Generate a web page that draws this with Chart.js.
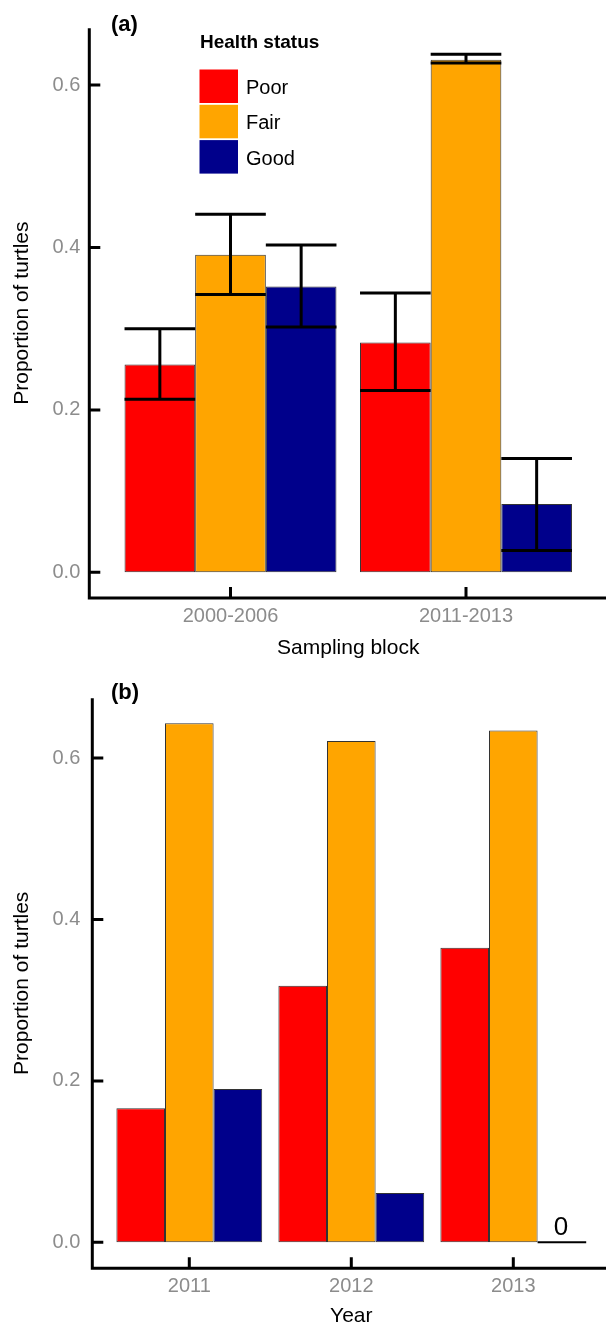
<!DOCTYPE html>
<html>
<head>
<meta charset="utf-8">
<script src="https://cdn.jsdelivr.net/npm/chart.js@4.4.1/dist/chart.umd.min.js"></script>
<style>
  html, body { margin: 0; padding: 0; background: #fff; overflow: hidden; }
  canvas { position: absolute; left: 0; }
  #chartA { top: 0; }
  #chartB { top: 668px; }
</style>
</head>
<body>
<canvas id="chartA" width="606" height="668"></canvas>
<canvas id="chartB" width="606" height="670"></canvas>
<script>
const statusLabels = ['Poor', 'Fair', 'Good'];
const statusColors = ['#ff0000', '#ffa500', '#00008b'];
const yTicks = [0, 0.2, 0.4, 0.6];

// (a) proportions by sampling block, with error limits
const blocks = ['2000-2006', '2011-2013'];
const poorBlock = [0.256, 0.283];
const fairBlock = [0.391, 0.631];
const goodBlock = [0.352, 0.084];
const poorLow = [0.213, 0.224];
const poorHigh = [0.300, 0.344];
const fairLow = [0.342, 0.627];
const fairHigh = [0.441, 0.638];
const goodLow = [0.302, 0.027];
const goodHigh = [0.403, 0.140];

// (b) proportions by year
const years = ['2011', '2012', '2013'];
const poorYear = [0.166, 0.318, 0.365];
const fairYear = [0.643, 0.621, 0.634];
const goodYear = [0.190, 0.061, 0];

const FONT = "'Liberation Sans', Arial, sans-serif";

function makeDatasets(series, lows, highs) {
    return series.map((data, i) => ({
        label: statusLabels[i],
        data: data,
        backgroundColor: statusColors[i],
        borderColor: '#333',
        borderWidth: 1,
        borderSkipped: false,
        errLow: lows ? lows[i] : null,
        errHigh: highs ? highs[i] : null
    }));
}

// axis lines and tick marks sit left of the plot area, like the original figure
function axesPlugin(axisX, tag) {
    return {
        id: 'axes',
        afterDraw(chart) {
            const { ctx, chartArea, scales } = chart;
            ctx.save();
            ctx.strokeStyle = '#000';
            ctx.lineWidth = 3;
            ctx.beginPath();
            ctx.moveTo(axisX, chartArea.top);
            ctx.lineTo(axisX, chartArea.bottom + 1.5);
            ctx.moveTo(axisX - 1.5, chartArea.bottom);
            ctx.lineTo(chart.width, chartArea.bottom);
            scales.y.ticks.forEach(t => {
                const y = scales.y.getPixelForValue(t.value);
                ctx.moveTo(axisX, y);
                ctx.lineTo(axisX + 11, y);
            });
            scales.x.ticks.forEach((t, i) => {
                const x = scales.x.getPixelForTick(i);
                ctx.moveTo(x, chartArea.bottom);
                ctx.lineTo(x, chartArea.bottom - 11);
            });
            ctx.stroke();

            ctx.fillStyle = '#000';
            ctx.font = 'bold 22px ' + FONT;
            ctx.textAlign = 'left';
            ctx.textBaseline = 'middle';
            ctx.fillText(tag, 111, 25);
            ctx.restore();
        }
    };
}

const errorBarsPlugin = {
    id: 'errorBars',
    afterDatasetsDraw(chart) {
        const { ctx, scales } = chart;
        ctx.save();
        ctx.strokeStyle = '#000';
        ctx.lineWidth = 3;
        chart.data.datasets.forEach((ds, di) => {
            if (!ds.errLow) return;
            chart.getDatasetMeta(di).data.forEach((bar, i) => {
                const half = bar.width / 2;
                const yl = scales.y.getPixelForValue(ds.errLow[i]);
                const yh = scales.y.getPixelForValue(ds.errHigh[i]);
                ctx.beginPath();
                ctx.moveTo(bar.x - half, yl);
                ctx.lineTo(bar.x + half, yl);
                ctx.moveTo(bar.x - half, yh);
                ctx.lineTo(bar.x + half, yh);
                ctx.moveTo(bar.x, yl);
                ctx.lineTo(bar.x, yh);
                ctx.stroke();
            });
        });
        ctx.restore();
    }
};

const zeroMarkPlugin = {
    id: 'zeroMark',
    afterDatasetsDraw(chart) {
        const { ctx, scales } = chart;
        ctx.save();
        chart.data.datasets.forEach((ds, di) => {
            chart.getDatasetMeta(di).data.forEach((bar, i) => {
                if (ds.data[i] !== 0) return;
                const half = bar.width / 2;
                const y0 = scales.y.getPixelForValue(0);
                ctx.strokeStyle = '#000';
                ctx.lineWidth = 2;
                ctx.beginPath();
                ctx.moveTo(bar.x - half, y0);
                ctx.lineTo(bar.x + half, y0);
                ctx.stroke();
                ctx.fillStyle = '#000';
                ctx.font = '26px ' + FONT;
                ctx.textAlign = 'center';
                ctx.textBaseline = 'alphabetic';
                ctx.fillText('0', bar.x - 1, y0 - 7);
            });
        });
        ctx.restore();
    }
};

const legendPlugin = {
    id: 'statusLegend',
    afterDraw(chart) {
        const ctx = chart.ctx;
        ctx.save();
        ctx.fillStyle = '#000';
        ctx.font = 'bold 19px ' + FONT;
        ctx.textAlign = 'left';
        ctx.textBaseline = 'middle';
        ctx.fillText('Health status', 200, 43);
        chart.data.datasets.forEach((ds, i) => {
            const top = 69.5 + i * 35.3;
            ctx.fillStyle = ds.backgroundColor;
            ctx.fillRect(199.5, top, 38.5, 33.5);
            ctx.fillStyle = '#000';
            ctx.font = '20px ' + FONT;
            ctx.fillText(ds.label, 246, top + 19);
        });
        ctx.restore();
    }
};

function makeOptions(cfg) {
    return {
        responsive: false,
        animation: false,
        layout: { padding: { left: 0, top: cfg.top, right: cfg.right, bottom: 0 } },
        datasets: { bar: { barPercentage: 1.0, categoryPercentage: 0.9 } },
        plugins: { legend: { display: false }, tooltip: { enabled: false } },
        scales: {
            x: {
                offset: true,
                grid: { display: false, drawTicks: false },
                border: { display: false },
                ticks: { color: '#8c8c8c', font: { size: 20, family: FONT }, padding: cfg.xTickPad, maxRotation: 0, autoSkip: false },
                title: { display: true, text: cfg.xTitle, color: '#000', font: { size: 21, family: FONT }, padding: { top: 0, bottom: cfg.xTitlePad } },
                afterFit: s => {
                    s.height = cfg.xHeight;
                    s.paddingLeft = 0;
                    s.paddingRight = 0;
                }
            },
            y: {
                min: cfg.yMin,
                max: cfg.yMax,
                grid: { display: false, drawTicks: false },
                border: { display: false },
                afterBuildTicks: s => { s.ticks = yTicks.map(v => ({ value: v })); },
                ticks: { color: '#8c8c8c', font: { size: 20, family: FONT }, padding: cfg.yTickPad, callback: v => Number(v).toFixed(1) },
                title: { display: true, text: 'Proportion of turtles', color: '#000', font: { size: 21, family: FONT }, padding: { top: 10, bottom: 0 } },
                afterFit: s => {
                    s.width = cfg.yWidth;
                    s.paddingTop = 0;
                    s.paddingBottom = 0;
                }
            }
        }
    };
}

new Chart(document.getElementById('chartA'), {
    type: 'bar',
    data: {
        labels: blocks,
        datasets: makeDatasets([poorBlock, fairBlock, goodBlock], [poorLow, fairLow, goodLow], [poorHigh, fairHigh, goodHigh])
    },
    options: makeOptions({
        top: 28.3, right: 22.25, yWidth: 112.75, xHeight: 70,
        yMin: -0.0316, yMax: 0.6698, yTickPad: 32.5,
        xTickPad: 6, xTitle: 'Sampling block', xTitlePad: 7
    }),
    plugins: [axesPlugin(89.3, '(a)'), errorBarsPlugin, legendPlugin]
});

new Chart(document.getElementById('chartB'), {
    type: 'bar',
    data: {
        labels: years,
        datasets: makeDatasets([poorYear, fairYear, goodYear])
    },
    options: makeOptions({
        top: 30.3, right: 11.7, yWidth: 108.3, xHeight: 69.7,
        yMin: -0.0322, yMax: 0.674, yTickPad: 28,
        xTickPad: 5.7, xTitle: 'Year', xTitlePad: 8.7
    }),
    plugins: [axesPlugin(92.3, '(b)'), zeroMarkPlugin]
});
</script>
</body>
</html>
